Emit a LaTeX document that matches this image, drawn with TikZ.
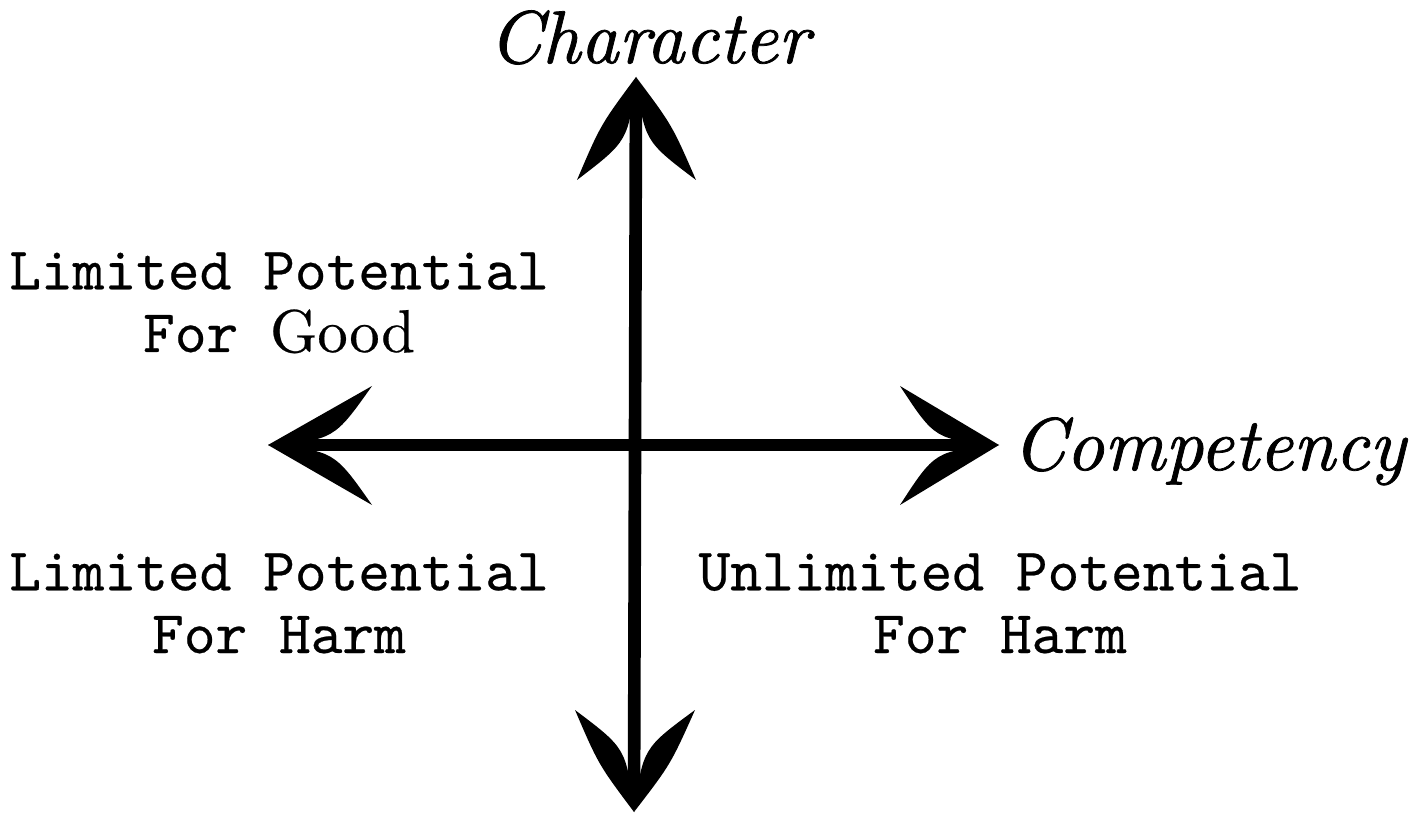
\documentclass[tikz,border=0pt]{standalone}
\usepackage{fontspec}
\usetikzlibrary{calc}
\newfontfamily\twfont{lmmono10-regular.otf}[FakeBold=0.4]
\newfontfamily\goodfont{lmroman10-regular.otf}[FakeBold=0.4]
\newfontfamily\handfont{lmroman10-italic.otf}[FakeBold=1.0]
% barb: tip, end, first control offset, second control offset
\newcommand\mybarb[4]{%
  \fill[black] (#1) .. controls ($(#1)!0.5!(#2)!#3!90:(#2)$) .. (#2)
     .. controls ($(#1)!0.5!(#2)!#4!90:(#2)$) .. (#1) -- cycle;}
\newcommand\mytip[2]{%
  \fill[black] (#1) -- ($($(#1)!0.4cm!(#2)$)!0.13cm!90:(#2)$) -- ($($(#1)!0.4cm!(#2)$)!0.13cm!-90:(#2)$) -- cycle;}
\begin{document}
\begin{tikzpicture}[x=0.02cm,y=-0.02cm,
  shaft/.style={line width=7.2pt, shorten >=0.36cm, shorten <=0.36cm},
  lab/.style={font=\fontsize{34.4}{35.7}\selectfont\twfont, align=center, inner sep=0pt},
  hand/.style={font=\fontsize{42.5}{48}\selectfont\handfont, inner sep=0pt}]
\useasboundingbox (0,0) rectangle (1421,814);
% axis end points
\coordinate (top) at (636,77);
\coordinate (bot) at (634,812);
\coordinate (lft) at (268,445);
\coordinate (rgt) at (999,445);
\coordinate (tl) at (577,180);
\coordinate (tr) at (696,180);
\coordinate (bl) at (575,710);
\coordinate (br) at (695,710);
\coordinate (lu) at (372,386);
\coordinate (ld) at (372,505);
\coordinate (ru) at (900,386);
\coordinate (rd) at (900,505);
% shafts
\draw[shaft] (top) -- (bot);
\draw[shaft] (lft) -- (rgt);
\mytip{top}{bot}\mytip{bot}{top}\mytip{lft}{rgt}\mytip{rgt}{lft}
% barbs
\mybarb{top}{tl}{0.5cm}{-0.14cm}\mybarb{top}{tr}{-0.5cm}{0.14cm}
\mybarb{bot}{bl}{-0.5cm}{0.14cm}\mybarb{bot}{br}{0.5cm}{-0.14cm}
\mybarb{lft}{lu}{-0.56cm}{0.01cm}\mybarb{lft}{ld}{0.56cm}{-0.01cm}
\mybarb{rgt}{ru}{0.56cm}{-0.01cm}\mybarb{rgt}{rd}{-0.56cm}{0.01cm}
% labels
\node[hand, anchor=base] (character) at (649,63) {Character};
\node[hand, anchor=base west] (competency) at (1012,470) {Competency};
\node[lab, anchor=base] (good) at (279,352) {Limited Potential\\For {\goodfont Good}};
\node[lab, anchor=base] (lharm) at (279,653) {Limited Potential\\For Harm};
\node[lab, anchor=base] (uharm) at (1000,653) {Unlimited Potential\\For Harm};
\end{tikzpicture}
\end{document}
